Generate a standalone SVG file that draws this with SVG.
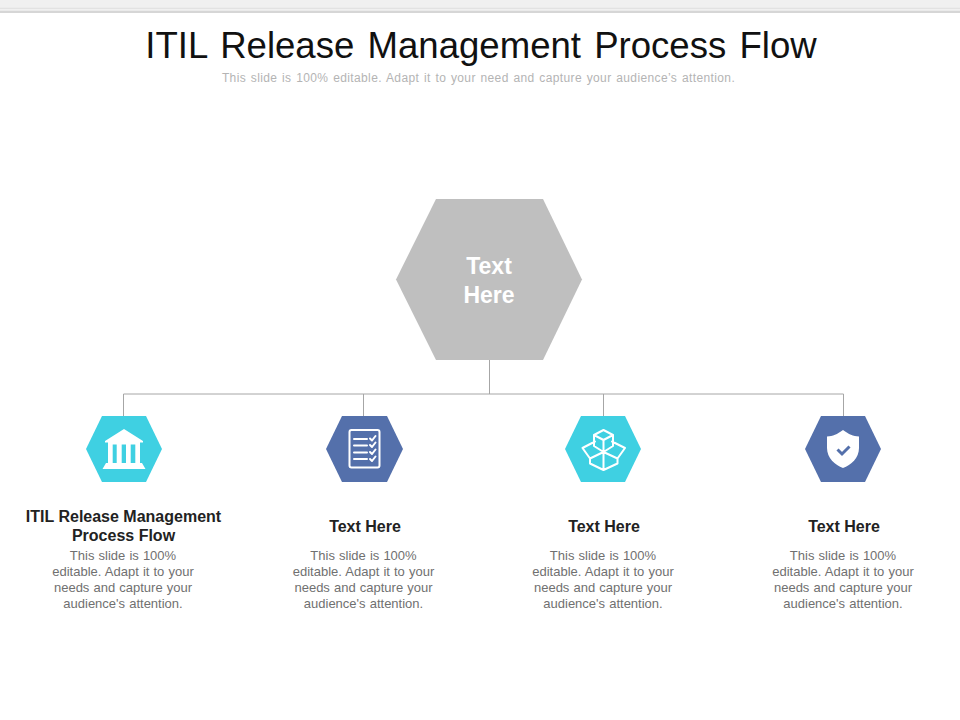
<svg xmlns="http://www.w3.org/2000/svg" width="960" height="720" viewBox="0 0 960 720">
<style>
text{font-family:"Liberation Sans",Arial,sans-serif;text-anchor:middle}
.title{font-size:36.6px;fill:#111;word-spacing:3px}
.sub{font-size:12px;fill:#b4b4b4;letter-spacing:.38px;word-spacing:1px}
.main{font-size:23px;font-weight:bold;fill:#fff}
.head{font-size:16px;font-weight:bold;fill:#222;word-spacing:0}
.body{font-size:13px;fill:#707070;word-spacing:.5px}
.conn{stroke:#a6a6a6;stroke-width:1;fill:none}
.cyan{fill:#3fd0e2}
.blue{fill:#5470ab}
.ic{fill:none;stroke:#fff;stroke-width:2;stroke-linejoin:round;stroke-linecap:round}
.icf{fill:#fff}
</style>
<rect width="960" height="7.500" fill="#f0f0f0"/>
<rect y="7.500" width="960" height="2" fill="#e2e2e2"/>
<rect y="10.500" width="960" height="2.500" fill="#d6d6d6"/>
<g id="header">
<text class="title" x="481" y="58">ITIL Release Management Process Flow</text>
<text class="sub" x="478.500" y="82">This slide is 100% editable. Adapt it to your need and capture your audience’s attention.</text>
</g>
<g id="connectors">
<path class="conn" d="M489.500 360V394M123.500 394H843.500M123.500 394V416M363.500 394V416M603.500 394V416M843.500 394V416"/>
</g>
<g id="node-main">
<polygon points="396,279.500 436,199 543,199 582,279.500 543,360 436,360" fill="#bfbfbf"/>
<text class="main" x="489" y="274">Text</text>
<text class="main" x="489" y="303">Here</text>
</g>
<g id="node-1">
<polygon class="cyan" points="86,449 102,416 146,416 162,449 146,482 102,482"/>
<path class="icf" d="M124 429L143 441V442.500H105V441ZM108 442H140V463H108ZM106 463H142L145.500 469H102.500Z"/>
<path class="cyan" d="M112.700 444.500H116.700V463H112.700ZM121.700 444.500H126V463H121.700ZM130.700 444.500H135.300V463H130.700Z"/>
<text class="head" x="123.500" y="521.500">ITIL Release Management</text>
<text class="head" x="123.500" y="540.500">Process Flow</text>
<text class="body" x="123" y="560">This slide is 100%</text>
<text class="body" x="123" y="576">editable. Adapt it to your</text>
<text class="body" x="123" y="592">needs and capture your</text>
<text class="body" x="123" y="608">audience's attention.</text>
</g>
<g id="node-2">
<polygon class="blue" points="326,449 342,416 387,416 403,449 387,482 342,482"/>
<rect class="ic" x="349.500" y="430" width="30" height="37.500" rx="2"/>
<path class="ic" d="M354 439H367M354 445.500H367M354 452.500H367M354 459H367M370 438.500L372 440.500L375.500 436M370 445L372 447L375.500 442.500M370 452L372 454L375.500 449.500M370 459L372 461L375.500 456.500"/>
<text class="head" x="365" y="531.500">Text Here</text>
<text class="body" x="363.500" y="560">This slide is 100%</text>
<text class="body" x="363.500" y="576">editable. Adapt it to your</text>
<text class="body" x="363.500" y="592">needs and capture your</text>
<text class="body" x="363.500" y="608">audience's attention.</text>
</g>
<g id="node-3">
<polygon class="cyan" points="565,449 581,416 625,416 641,449 625,482 581,482"/>
<path class="ic" d="M603.500 430L613 435V446L603.500 452L594 446V435ZM594 435L603.500 440L613 435M603.500 440V452M595 441.500L582.500 448L590 458.500L603.500 452M612 441.500L625 448L617.500 458.500L603.500 452M590 458.500V463.500L603.500 470L617.500 463.500V458.500M603.500 452V470"/>
<text class="head" x="604" y="531.500">Text Here</text>
<text class="body" x="603" y="560">This slide is 100%</text>
<text class="body" x="603" y="576">editable. Adapt it to your</text>
<text class="body" x="603" y="592">needs and capture your</text>
<text class="body" x="603" y="608">audience's attention.</text>
</g>
<g id="node-4">
<polygon class="blue" points="805,449 821,416 865,416 881,449 865,482 821,482"/>
<path class="icf" d="M843 430C849 434.500 853 436 859 436.500V448C859 458 851 465 843 468C835 465 827 458 827 448V436.500C833 436 837 434.500 843 430Z"/>
<path d="M837.500 449.500L842 454L849.500 446.500" fill="none" stroke="#5470ab" stroke-width="3"/>
<text class="head" x="844" y="531.500">Text Here</text>
<text class="body" x="843" y="560">This slide is 100%</text>
<text class="body" x="843" y="576">editable. Adapt it to your</text>
<text class="body" x="843" y="592">needs and capture your</text>
<text class="body" x="843" y="608">audience's attention.</text>
</g>
</svg>
